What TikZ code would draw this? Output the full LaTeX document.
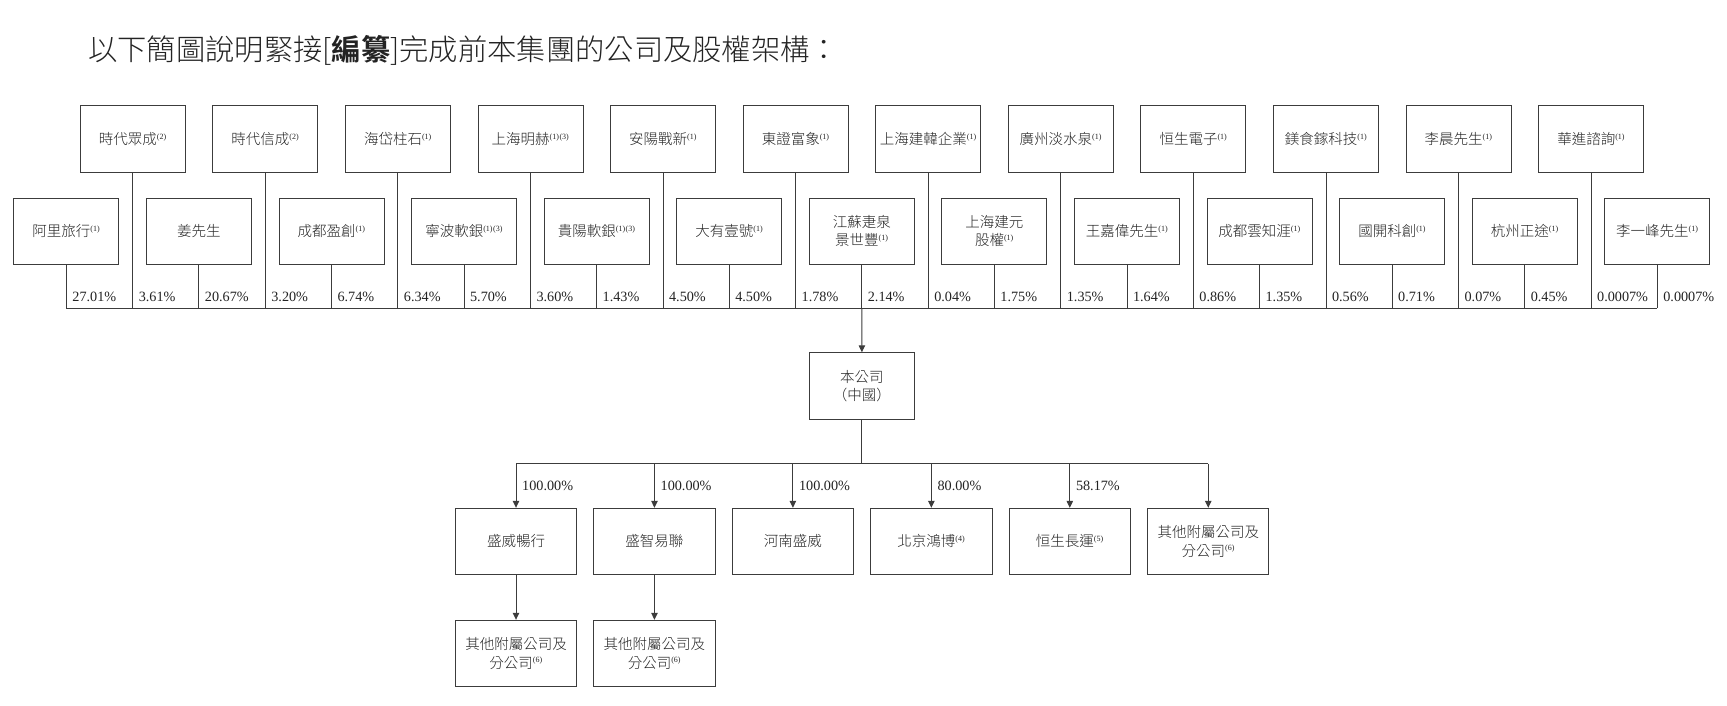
\documentclass[tikz,border=0pt]{standalone}
\usepackage{fontspec}
\setmainfont{Liberation Serif}
\newfontfamily\cjk{Noto Sans CJK TC}[UprightFont={* Light}, BoldFont={* Bold}]
\usetikzlibrary{arrows.meta,positioning}
\definecolor{lineg}{RGB}{60,60,60}
\definecolor{textg}{RGB}{35,35,35}
\newcommand{\fn}[1]{\textsuperscript{\rmfamily\fontsize{8}{8}\selectfont(#1)}}
\tikzset{
  entity/.style={draw=lineg, line width=1pt, minimum width=105pt, minimum height=66.3pt,
    inner sep=0pt, align=center, text=textg, font=\cjk\fontsize{14.5}{18.5}\selectfont},
  subbox/.style={entity, minimum width=121.3pt, minimum height=66pt},
  link/.style={draw=lineg, line width=1pt},
  arr/.style={link, -{Triangle[length=7pt,width=6.5pt]}},
  pct/.style={anchor=base west, inner sep=0pt, text=textg, font=\rmfamily\fontsize{14.2}{16}\selectfont},
}

\begin{document}
\begin{tikzpicture}[x=1pt,y=-1pt]
  \useasboundingbox (0,0) rectangle (1727,705);
  % Title
  \node[anchor=west, inner sep=0pt, text=textg, font=\cjk\fontsize{29.3}{31}\selectfont] (title) at (88,50)
    {以下簡圖說明緊接[\textbf{編纂}]完成前本集團的公司及股權架構：};
  \coordinate (bar) at (0,308.3);
  % Shareholders, upper row
  \foreach \name/\pc [count=\i] in {時代眾成\fn{2}/3.61, 時代信成\fn{2}/3.20, 海岱柱石\fn{1}/6.34,
      上海明赫\fn{1}\fn{3}/3.60, 安陽戰新\fn{1}/4.50, 東證富象\fn{1}/1.78, 上海建韓企業\fn{1}/0.04,
      廣州淡水泉\fn{1}/1.35, 恒生電子\fn{1}/0.86, 鎂食鎵科技\fn{1}/0.56, 李晨先生\fn{1}/0.07,
      華進諮詢\fn{1}/0.0007}
  {
    \node[entity] (t\i) at ({132.8+132.58*(\i-1)},138.9) {\name};
    \draw[link] (t\i.south) -- (t\i.south |- bar) node[pct, xshift=5.5pt, yshift=6.6pt] {\pc\%};
  }
  % Shareholders, lower row
  \foreach \name/\pc [count=\i] in {阿里旅行\fn{1}/27.01, 姜先生/20.67, 成都盈創\fn{1}/6.74,
      寧波軟銀\fn{1}\fn{3}/5.70, 貴陽軟銀\fn{1}\fn{3}/1.43, 大有壹號\fn{1}/4.50,
      {江蘇疌泉\\景世豐\fn{1}}/2.14, {上海建元\\股權\fn{1}}/1.75, 王嘉偉先生\fn{1}/1.64,
      成都雲知涯\fn{1}/1.35, 國開科創\fn{1}/0.71, 杭州正途\fn{1}/0.45, 李一峰先生\fn{1}/0.0007}
  {
    \node[entity] (b\i) at ({66.4+132.58*(\i-1)},231.2) {\name};
    \draw[link] (b\i.south) -- (b\i.south |- bar) node[pct, xshift=5.5pt, yshift=6.6pt] {\pc\%};
  }
  \draw[link] (b1.south |- bar) -- (b13.south |- bar);
  % The company
  \node[entity] (co) at (861.9,385.9) {本公司\\（中國）};
  \draw[arr] (b7.south |- bar) -- (co.north);
  % Subsidiaries
  \coordinate (sbar) at (0,463.5);
  \draw[link] (co.south) -- (co.south |- sbar);
  \foreach \name/\pc [count=\i] in {盛威暢行/100.00\%, 盛智易聯/100.00\%, 河南盛威/100.00\%,
      北京鴻博\fn{4}/80.00\%, 恒生長運\fn{5}/58.17\%, {其他附屬公司及\\分公司\fn{6}}/{}}
  {
    \node[subbox] (s\i) at ({516+138.45*(\i-1)},541.3) {\name};
    \draw[arr] (s\i.north |- sbar) -- (s\i.north) node[pct, pos=0.607, xshift=5.7pt] {\pc};
  }
  \draw[link] (s1.north |- sbar) -- (s6.north |- sbar);
  \foreach \i in {1,2}
  {
    \node[subbox, below=45pt of s\i] (o\i) {其他附屬公司及\\分公司\fn{6}};
    \draw[arr] (s\i.south) -- (o\i.north);
  }
\end{tikzpicture}
\end{document}
